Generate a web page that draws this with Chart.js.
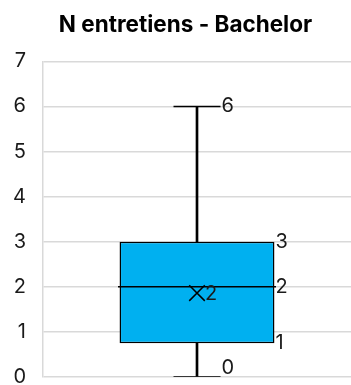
<!DOCTYPE html>
<html>
<head>
<meta charset="utf-8">
<script src="https://cdn.jsdelivr.net/npm/chart.js@4.4.1/dist/chart.umd.min.js"></script>
<style>
  body { margin: 0; background: #fff; }
  #wrap { width: 351px; height: 385px; position: relative; }
</style>
</head>
<body>
<div id="wrap"><canvas id="myChart"></canvas></div>
<script>
// box plot values, one entry per category
var categories = ['Bachelor'];
var minValues = [0];
var q1Values = [0.75];
var medianValues = [2];
var q3Values = [3];
var maxValues = [6];
var meanValues = [1.86];

var yMin = 0;
var yMax = 7;
var yStep = 1;

var CAP_HALF = 23.5;
var TEXT = '#1a1a1a';

Chart.defaults.font.family = 'Inter';

function pairs(a, b) {
	return a.map(function(v, i) { return [v, b[i]]; });
}

// draws the value labels next to the box, caps and mean marker
const boxLabels = {
	id: 'boxLabels',
	afterDatasetsDraw(chart) {
		const ctx = chart.ctx;
		const y = chart.scales.y;
		const boxMeta = chart.getDatasetMeta(0);
		ctx.save();
		ctx.font = '20px Inter';
		ctx.fillStyle = TEXT;
		ctx.textAlign = 'left';
		for (var i = 0; i < categories.length; i++) {
			const bar = boxMeta.data[i];
			const cx = bar.x;
			const right = bar.x + bar.width / 2;

			ctx.textBaseline = 'middle';
			ctx.fillText(Math.round(maxValues[i]), cx + CAP_HALF + 1, y.getPixelForValue(maxValues[i]));
			ctx.fillText(Math.round(q3Values[i]), right + 1, y.getPixelForValue(q3Values[i]));
			ctx.fillText(Math.round(medianValues[i]), right + 1, y.getPixelForValue(medianValues[i]));
			ctx.fillText(Math.round(q1Values[i]), right + 1, y.getPixelForValue(q1Values[i]));
			ctx.fillText(Math.round(meanValues[i]), cx + 8, y.getPixelForValue(meanValues[i]) + 1);

			ctx.textBaseline = 'bottom';
			ctx.fillText(Math.round(minValues[i]), cx + CAP_HALF + 1, y.getPixelForValue(minValues[i]) + 1);
		}
		ctx.restore();
	}
};

function initializeChart() {
	const ctx = document.getElementById('myChart').getContext('2d');
	chart = new Chart(ctx, {
		type: 'bar',
		data: {
			labels: categories,
			datasets: [
				{
					// box q1..q3
					data: pairs(q1Values, q3Values),
					backgroundColor: '#00B0F0',
					borderColor: '#000',
					borderWidth: 1.5,
					borderSkipped: false,
					grouped: false,
					barPercentage: 0.503,
					categoryPercentage: 1,
					order: 5
				},
				{
					// upper whisker
					data: pairs(q3Values, maxValues),
					backgroundColor: '#000',
					barThickness: 2,
					grouped: false,
					order: 6
				},
				{
					// lower whisker
					data: pairs(minValues, q1Values),
					backgroundColor: '#000',
					barThickness: 2,
					grouped: false,
					order: 6
				},
				{
					type: 'line',
					data: maxValues,
					showLine: false,
					pointStyle: 'line',
					pointRadius: CAP_HALF,
					pointBorderColor: '#000',
					pointBorderWidth: 1.5,
					order: 1
				},
				{
					type: 'line',
					data: minValues,
					showLine: false,
					pointStyle: 'line',
					pointRadius: CAP_HALF,
					pointBorderColor: '#000',
					pointBorderWidth: 1.5,
					order: 1
				},
				{
					type: 'line',
					data: medianValues,
					showLine: false,
					pointStyle: 'line',
					pointRadius: 79,
					pointBorderColor: '#000',
					pointBorderWidth: 1.5,
					order: 0
				},
				{
					type: 'line',
					data: meanValues,
					showLine: false,
					pointStyle: 'crossRot',
					pointRadius: 11,
					pointBorderColor: '#000',
					pointBorderWidth: 1.5,
					order: 0
				}
			]
		},
		options: {
			responsive: true,
			maintainAspectRatio: false,
			animation: false,
			layout: { autoPadding: false, padding: { left: 14, right: -6, top: 0, bottom: 8 } },
			plugins: {
				legend: { display: false },
				tooltip: { enabled: false },
				title: {
					display: true,
					text: 'N entretiens - Bachelor',
					color: '#000',
					font: { size: 22.5, weight: 'bold' },
					padding: { top: 12, bottom: 22.3 }
				}
			},
			scales: {
				x: { display: false },
				y: {
					min: yMin,
					max: yMax,
					ticks: { stepSize: yStep, padding: 17, color: TEXT, font: { size: 20 } },
					grid: { color: '#d9d9d9', lineWidth: 1.5, drawTicks: false },
					border: { display: true, color: '#d9d9d9', width: 1.5 },
					afterFit: function(scale) {
						scale.width = 29;
						scale.paddingTop = 0;
						scale.paddingBottom = 0;
					}
				}
			}
		},
		plugins: [boxLabels]
	});
}

var chart;
window.onload = initializeChart;
</script>
</body>
</html>
